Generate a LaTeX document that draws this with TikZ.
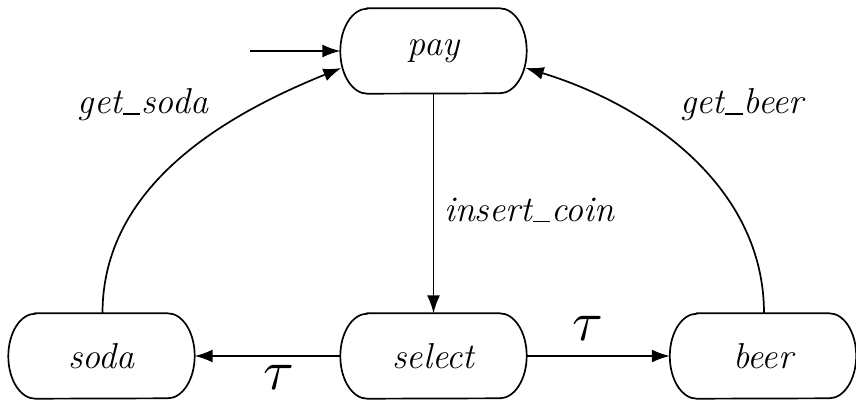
\documentclass[tikz,border=0pt]{standalone}
\usetikzlibrary{arrows.meta,calc}
\newcommand\usc{\kern0.03em\rule[-0.02em]{0.48em}{0.04em}\kern0.03em}
\newcommand\stadium[1]{%
  \draw[line width=1.7pt] ($(#1.north west)+(27,0)$) -- ($(#1.north east)+(-27,0)$)
    arc[start angle=90,end angle=-90,x radius=27,y radius=42.5]
    -- ($(#1.south west)+(27,0)$)
    arc[start angle=270,end angle=90,x radius=27,y radius=42.5] -- cycle;}
\begin{document}
\begin{tikzpicture}[x=1pt,y=1pt,
  state/.style={rectangle,minimum width=186pt,minimum height=85pt,inner sep=0pt,
    font=\fontsize{36}{40}\selectfont\itshape},
  lbl/.style={font=\fontsize{36}{40}\selectfont\itshape,inner sep=0pt},
  taulbl/.style={inner sep=0pt},
  edge/.style={line width=1.7pt,-{Latex[length=18pt,width=13pt]}}]
\useasboundingbox (0,0) rectangle (856,400);
\node[state] (pay)    at (433.5,349) {pay};
\node[state] (soda)   at (101.5,44) {soda};
\node[state] (select) at (433.5,44) {select};
\node[state] (beer)   at (763,44) {beer};
\foreach \n in {pay,soda,select,beer}{\stadium{\n}}
\coordinate (init) at (250,349);
\draw[edge] (init) -- (pay.west);
\draw[edge] (pay.south) -- (select.north);
\draw[edge] (select.east) -- (beer.west);
\draw[edge] (select.west) -- (soda.east);
\draw[edge] ([xshift=1pt]soda.north) to[out=90,in=202,looseness=0.95] ([xshift=1pt,yshift=-17pt]pay.west);
\draw[edge] ([xshift=1pt]beer.north) to[out=90,in=-17,looseness=0.95] ([xshift=-1pt,yshift=-17pt]pay.east);
\node[lbl,anchor=west] (lcoin) at (444,190) {insert\usc coin};
\node[lbl] (lsoda) at (143,295) {get\usc soda};
\node[lbl] (lbeer) at (742,295) {get\usc beer};
\node[taulbl] (ltaur) at (588,72) {\scalebox{5.6}{$\tau$}};
\node[taulbl] (ltaul) at (279,23) {\scalebox{5.6}{$\tau$}};
\end{tikzpicture}
\end{document}
